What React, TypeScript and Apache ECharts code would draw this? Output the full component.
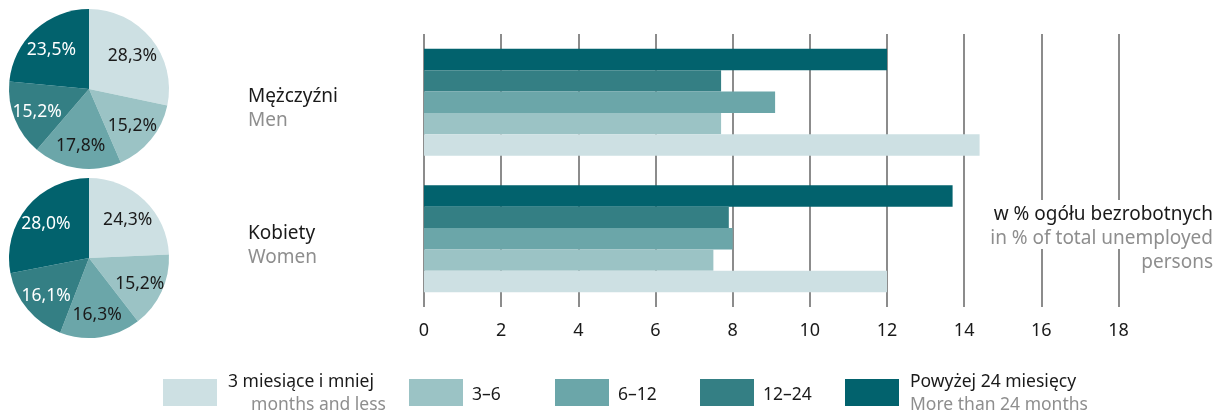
import React, { useEffect, useRef } from "react";
import * as echarts from "echarts";

const groups = ["Mężczyźni", "Kobiety"];
const groupsEn = ["Men", "Women"];
const durations = ["3 miesiące i mniej", "3–6", "6–12", "12–24", "Powyżej 24 miesięcy"];
const durationsEn = ["months and less", "", "", "", "More than 24 months"];
const colors = ["#cde0e3", "#9bc3c5", "#6ba6a9", "#347f84", "#02626d"];
// values in % of total unemployed, per duration: [Men, Women]
const upTo3 = [14.4, 12.0];
const m3to6 = [7.7, 7.5];
const m6to12 = [9.1, 8.0];
const m12to24 = [7.7, 7.9];
const over24 = [12.0, 13.7];
const barValues = [upTo3, m3to6, m6to12, m12to24, over24];
// pie shares (%)
const pieMen = [28.3, 15.2, 17.8, 15.2, 23.5];
const pieWomen = [24.3, 15.2, 16.3, 16.1, 28.0];
const pieLabelColors = ["#1a1a1a", "#1a1a1a", "#1a1a1a", "#ffffff", "#ffffff"];
const xTicks = { min: 0, max: 18, interval: 2 };

const FONT = "'Noto Sans', sans-serif";
const GRAY = "#8e8e8e";
const DARK = "#1a1a1a";

export default function App() {
  const ref = useRef<HTMLDivElement>(null);
  useEffect(() => {
    if (!ref.current) return;
    const chart = echarts.init(ref.current, null, { renderer: "svg" });

    const barSeries = [4, 3, 2, 1, 0].map((i) => ({
      type: "bar",
      name: durations[i],
      data: barValues[i],
      itemStyle: { color: colors[i] },
      barGap: "0%",
      barCategoryGap: "21.6%",
      silent: true,
      z: 3,
    }));

    const pie = (center: number[], vals: number[], id: string) => [
      {
        type: "pie",
        id: id + "s",
        center,
        radius: [0, 80],
        startAngle: 90,
        clockwise: true,
        silent: true,
        label: { show: false },
        labelLine: { show: false },
        data: vals.map((v, i) => ({ value: v, name: durations[i], itemStyle: { color: colors[i] } })),
      },
      {
        type: "pie",
        id: id + "l",
        center,
        radius: [26, 80],
        startAngle: 90,
        clockwise: true,
        silent: true,
        z: 5,
        itemStyle: { color: "rgba(0,0,0,0)" },
        labelLine: { show: false },
        data: vals.map((v, i) => ({
          value: v,
          name: durations[i],
          label: {
            show: true,
            position: "inside",
            formatter: v.toFixed(1).replace(".", ",") + "%",
            color: pieLabelColors[i],
            fontSize: 17.5,
            fontFamily: FONT,
          },
        })),
      },
    ];

    const legendX = [163, 409, 555, 700, 845];
    const LF = `17.5px ${FONT}`;
    const legendGraphics: any[] = [];
    durations.forEach((d, i) => {
      legendGraphics.push({
        type: "rect",
        shape: { x: legendX[i], y: 379, width: 54, height: 27 },
        style: { fill: colors[i] },
      });
      const two = durationsEn[i] !== "";
      if (i === 0) {
        legendGraphics.push({
          type: "text",
          style: { text: d, x: 228, y: 380, fill: DARK, font: LF, textVerticalAlign: "middle" },
        });
        legendGraphics.push({
          type: "text",
          style: { text: durationsEn[i], x: 386, y: 403, fill: GRAY, font: LF, textAlign: "right", textVerticalAlign: "middle" },
        });
      } else if (two) {
        legendGraphics.push({
          type: "text",
          style: { text: d, x: legendX[i] + 65, y: 380, fill: DARK, font: LF, textVerticalAlign: "middle" },
        });
        legendGraphics.push({
          type: "text",
          style: { text: durationsEn[i], x: legendX[i] + 65, y: 403, fill: GRAY, font: LF, textVerticalAlign: "middle" },
        });
      } else {
        legendGraphics.push({
          type: "text",
          style: { text: d, x: legendX[i] + 63, y: 393, fill: DARK, font: LF, textVerticalAlign: "middle" },
        });
      }
    });

    const groupY = [95, 232];
    const GF = `19px ${FONT}`;
    const groupGraphics: any[] = [];
    groups.forEach((g, i) => {
      groupGraphics.push({
        type: "text",
        style: { text: g, x: 248, y: groupY[i], fill: DARK, font: GF, textVerticalAlign: "middle" },
      });
      groupGraphics.push({
        type: "text",
        style: { text: groupsEn[i], x: 248, y: groupY[i] + 24, fill: GRAY, font: GF, textVerticalAlign: "middle" },
      });
    });

    chart.setOption({
      animation: false,
      grid: { left: 424, top: 34, width: 694.5, height: 273 },
      xAxis: {
        type: "value",
        min: xTicks.min,
        max: xTicks.max,
        interval: xTicks.interval,
        axisLine: { show: false },
        axisTick: { show: false },
        splitLine: { show: true, lineStyle: { color: "#8c8c8c", width: 2 } },
        axisLabel: { color: DARK, fontSize: 18, fontFamily: FONT, margin: 13 },
      },
      yAxis: {
        type: "category",
        data: groups,
        inverse: true,
        axisLine: { show: false },
        axisTick: { show: false },
        axisLabel: { show: false },
        splitLine: { show: false },
      },
      series: [...barSeries, ...pie([89, 89], pieMen, "m"), ...pie([89, 258], pieWomen, "w")],
      graphic: [
        ...groupGraphics,
        ...legendGraphics,
        {
          type: "rect",
          z: 100,
          shape: { x: 985, y: 200, width: 231, height: 49 },
          style: { fill: "#ffffff" },
        },
        {
          type: "text",
          z: 101,
          style: { text: "w % ogółu bezrobotnych", x: 1213, y: 213, fill: DARK, font: GF, textAlign: "right", textVerticalAlign: "middle" },
        },
        {
          type: "text",
          z: 101,
          style: { text: "in % of total unemployed", x: 1213, y: 237, fill: GRAY, font: GF, textAlign: "right", textVerticalAlign: "middle" },
        },
        {
          type: "text",
          z: 101,
          style: { text: "persons", x: 1213, y: 261, fill: GRAY, font: GF, textAlign: "right", textVerticalAlign: "middle", backgroundColor: "#ffffff" },
        },
      ],
    });
    return () => chart.dispose();
  }, []);
  return <div ref={ref} style={{ position: "fixed", left: 0, top: 0, width: 1216, height: 415 }} />;
}
